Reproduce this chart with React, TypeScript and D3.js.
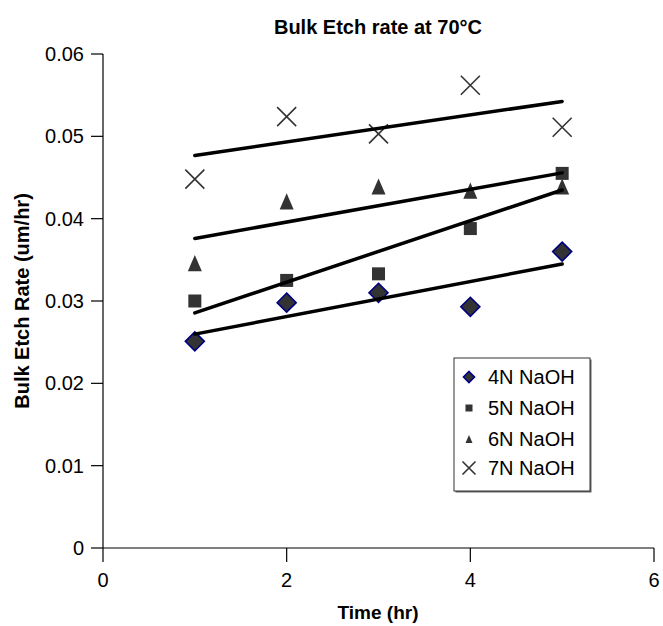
import React from "react";
import * as d3 from "d3";

const times = [1, 2, 3, 4, 5];
const naoh4 = [0.0251, 0.0298, 0.031, 0.0293, 0.036];
const naoh5 = [0.03, 0.0325, 0.0333, 0.0388, 0.0455];
const naoh6 = [0.0346, 0.0421, 0.0439, 0.0434, 0.0439];
const naoh7 = [0.0448, 0.0524, 0.0503, 0.0562, 0.0511];
const seriesNames = ["4N NaOH", "5N NaOH", "6N NaOH", "7N NaOH"];
const xTicks = [0, 2, 4, 6];
const yTicks = [0, 0.01, 0.02, 0.03, 0.04, 0.05, 0.06];

const W = 663;
const H = 626;
const FONT = "'Liberation Sans', Arial, sans-serif";

function fit(xs: number[], ys: number[]) {
  const mx = d3.mean(xs) as number;
  const my = d3.mean(ys) as number;
  let num = 0;
  let den = 0;
  xs.forEach((x, i) => {
    num += (x - mx) * (ys[i] - my);
    den += (x - mx) * (x - mx);
  });
  const b = num / den;
  return (x: number) => my + b * (x - mx);
}

type Kind = "diamond" | "square" | "triangle" | "cross";

function Marker({ kind, cx, cy, s }: { kind: Kind; cx: number; cy: number; s: number }) {
  if (kind === "diamond") {
    const r = s / 2;
    return (
      <path
        d={`M${cx},${cy - r}L${cx + r},${cy}L${cx},${cy + r}L${cx - r},${cy}Z`}
        fill="#333333"
        stroke="#000080"
        strokeWidth={1.6}
      />
    );
  }
  if (kind === "square") {
    const r = s / 2;
    return <rect x={cx - r} y={cy - r} width={s} height={s} fill="#333333" />;
  }
  if (kind === "triangle") {
    const w = s / 2;
    const h = s * 1.15;
    return (
      <path
        d={`M${cx},${cy - h / 2}L${cx + w},${cy + h / 2}L${cx - w},${cy + h / 2}Z`}
        fill="#333333"
      />
    );
  }
  const r = s / 2;
  return (
    <path
      d={`M${cx - r},${cy - r}L${cx + r},${cy + r}M${cx - r},${cy + r}L${cx + r},${cy - r}`}
      stroke="#333333"
      strokeWidth={1.6}
      fill="none"
    />
  );
}

export default function App() {
  const x = d3.scaleLinear().domain([0, 6]).range([103, 654]);
  const y = d3.scaleLinear().domain([0, 0.06]).range([548, 54]);

  const series: { name: string; vals: number[]; kind: Kind; size: number; legSize: number }[] = [
    { name: seriesNames[0], vals: naoh4, kind: "diamond", size: 19, legSize: 11 },
    { name: seriesNames[1], vals: naoh5, kind: "square", size: 13, legSize: 7 },
    { name: seriesNames[2], vals: naoh6, kind: "triangle", size: 14, legSize: 7 },
    { name: seriesNames[3], vals: naoh7, kind: "cross", size: 19, legSize: 13 },
  ];

  const legX = 454;
  const legY = 358;
  const legW = 136;
  const legH = 133;
  const rowY = [377, 408, 439, 468];

  return (
    <svg
      width={W}
      height={H}
      style={{ position: "absolute", left: 0, top: 0, background: "#fff" }}
      fontFamily={FONT}
    >
      <rect x={0} y={0} width={W} height={H} fill="#ffffff" />
      {/* title */}
      <text x={378} y={34} textAnchor="middle" fontSize={20} fontWeight="bold" fill="#000">
        Bulk Etch rate at 70°C
      </text>

      {/* axes */}
      <line x1={x(0)} x2={x(0)} y1={y(0.06)} y2={y(0)} stroke="#000" strokeWidth={1.2} />
      <line x1={x(0)} x2={x(6)} y1={y(0)} y2={y(0)} stroke="#000" strokeWidth={1.2} />
      {yTicks.map((t) => (
        <g key={"y" + t}>
          <line x1={x(0) - 12} x2={x(0)} y1={y(t)} y2={y(t)} stroke="#000" strokeWidth={1.2} />
          <text x={x(0) - 19} y={y(t) + 7} textAnchor="end" fontSize={20} fill="#000">
            {t === 0 ? "0" : t.toFixed(2)}
          </text>
        </g>
      ))}
      {xTicks.map((t) => (
        <g key={"x" + t}>
          <line x1={x(t)} x2={x(t)} y1={y(0)} y2={y(0) + 14} stroke="#000" strokeWidth={1.2} />
          <text x={x(t)} y={587} textAnchor="middle" fontSize={20} fill="#000">
            {t}
          </text>
        </g>
      ))}
      <text x={378} y={619} textAnchor="middle" fontSize={19} fontWeight="bold" fill="#000">
        Time (hr)
      </text>
      <text
        transform={`translate(29,${(y(0) + y(0.06)) / 2}) rotate(-90)`}
        textAnchor="middle"
        fontSize={20}
        fontWeight="bold"
        fill="#000"
      >
        Bulk Etch Rate (um/hr)
      </text>

      {/* markers */}
      {series.map((s) => (
        <g key={s.name}>
          {s.vals.map((v, i) => (
            <Marker key={i} kind={s.kind} cx={x(times[i])} cy={y(v)} s={s.size} />
          ))}
        </g>
      ))}

      {/* trend lines */}
      {series.map((s) => {
        const f = fit(times, s.vals);
        const x0 = d3.min(times) as number;
        const x1 = d3.max(times) as number;
        const pts = [x0, x1];
        return (
          <path
            key={"t" + s.name}
            d={d3
              .line<number>()
              .x((d) => x(d))
              .y((d) => y(f(d)))(pts) as string}
            stroke="#000"
            strokeWidth={3.5}
            strokeLinecap="round"
            fill="none"
          />
        );
      })}

      {/* legend */}
      <rect x={legX + 1.5} y={legY + 1.5} width={legW} height={legH} fill="#666" />
      <rect x={legX} y={legY} width={legW} height={legH} fill="#fff" stroke="#333" strokeWidth={1} />
      {series.map((s, i) => (
        <g key={"l" + s.name}>
          <Marker kind={s.kind} cx={469} cy={rowY[i]} s={s.legSize} />
          <text x={488} y={rowY[i] + 7} fontSize={20} fill="#000">
            {s.name}
          </text>
        </g>
      ))}
    </svg>
  );
}
